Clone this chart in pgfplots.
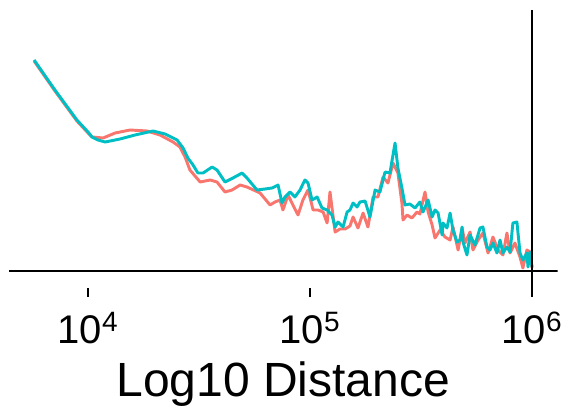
\documentclass[border=0pt]{standalone}
\usepackage{pgfplots}
\pgfplotsset{compat=1.18}
\usepackage{pgfplotstable}
\usepackage{fontspec}
\setmainfont{Liberation Sans}
\definecolor{salmon}{HTML}{F8766D}
\definecolor{teal2}{HTML}{00BFC4}

\pgfplotstableread{
L y
3.757 210
3.851 180
3.950 150
4.000 138
4.018 134
4.068 133
4.122 138
4.189 141
4.266 140
4.324 136
4.383 129
4.414 124
4.437 114
4.459 101
4.505 89
4.550 91
4.581 89
4.617 79
4.649 81
4.685 86
4.716 84
4.775 78
4.820 66
4.842 69
4.865 71
4.878 61
4.901 76
4.923 66
4.946 56
4.968 71
4.991 81
5.014 61
5.036 61
5.059 59
5.077 48
5.090 79
5.113 39
5.135 42
5.158 42
5.180 45
5.194 54
5.216 43
5.239 58
5.261 44
5.284 74
5.306 74
5.329 94
5.351 88
5.374 108
5.396 98
5.414 68
5.419 51
5.437 56
5.459 53
5.482 59
5.495 57
5.518 79
5.532 59
5.550 46
5.563 33
5.586 41
5.608 34
5.631 31
5.644 44
5.667 21
5.685 43
5.698 28
5.721 39
5.734 21
5.757 31
5.779 38
5.802 18
5.824 34
5.847 21
5.869 16
5.887 38
5.901 18
5.923 28
5.946 14
5.959 3
5.977 21
5.991 19
6.000 3
}\salmondata

\pgfplotstableread{
L y
3.757 211
3.851 181
3.950 151
4.000 139
4.018 134
4.045 131
4.077 129
4.144 132
4.212 136
4.293 140
4.347 137
4.401 131
4.428 123
4.450 113
4.473 106
4.495 98
4.518 98
4.559 104
4.581 101
4.617 89
4.653 93
4.694 98
4.716 93
4.761 81
4.797 82
4.829 83
4.856 86
4.874 68
4.887 74
4.910 79
4.932 74
4.955 81
4.977 91
4.991 88
5.009 71
5.032 74
5.054 63
5.077 61
5.099 56
5.113 44
5.126 49
5.149 44
5.167 59
5.180 61
5.194 68
5.212 64
5.225 69
5.248 70
5.270 54
5.293 81
5.315 79
5.338 99
5.360 98
5.383 128
5.396 103
5.414 83
5.428 66
5.450 67
5.473 63
5.495 69
5.509 59
5.532 71
5.550 54
5.563 61
5.577 58
5.595 36
5.599 48
5.617 43
5.631 58
5.644 41
5.662 29
5.676 31
5.685 44
5.689 29
5.707 16
5.721 36
5.743 26
5.766 43
5.779 44
5.797 24
5.811 21
5.824 28
5.842 18
5.856 31
5.869 18
5.887 24
5.901 19
5.914 48
5.932 49
5.946 18
5.959 11
5.977 18
5.982 4
5.991 19
6.000 4
}\tealdata

\begin{document}
\begin{tikzpicture}
\useasboundingbox (-6.75pt,-89.25pt) rectangle (416.25pt,216pt);
\begin{axis}[
  at={(0,0)}, anchor=south west,
  scale only axis,
  width=411.4pt, height=208.5pt,
  xmin=3.644, xmax=6.115,
  ymin=-17, ymax=261,
  axis line style={draw=none},
  ytick=\empty,
  xtick={4,5,6},
  xticklabels={10\textsuperscript{4},10\textsuperscript{5},10\textsuperscript{6}},
  xtick pos=bottom,
  tick align=outside,
  major tick length=6.75pt,
  every tick/.style={black, line width=1.4pt},
  xticklabel style={font=\fontsize{30}{34}\selectfont, inner sep=0pt, anchor=north, yshift=-11pt},
  xlabel={Log10 Distance},
  xlabel style={font=\fontsize{36}{40}\selectfont, at={(axis description cs:0.5,0)}, anchor=base, yshift=-81.5pt, inner sep=0pt},
]
\addplot[salmon, line width=2.2pt, line join=round] table[x=L, y=y] {\salmondata};
\addplot[teal2, line width=2.2pt, line join=round] table[x=L, y=y] {\tealdata};
\addplot[black, line width=1.9pt] coordinates {(3.644,0) (6.115,0)};
\addplot[black, line width=1.9pt] coordinates {(6,-17) (6,261)};
\end{axis}
\end{tikzpicture}
\end{document}
